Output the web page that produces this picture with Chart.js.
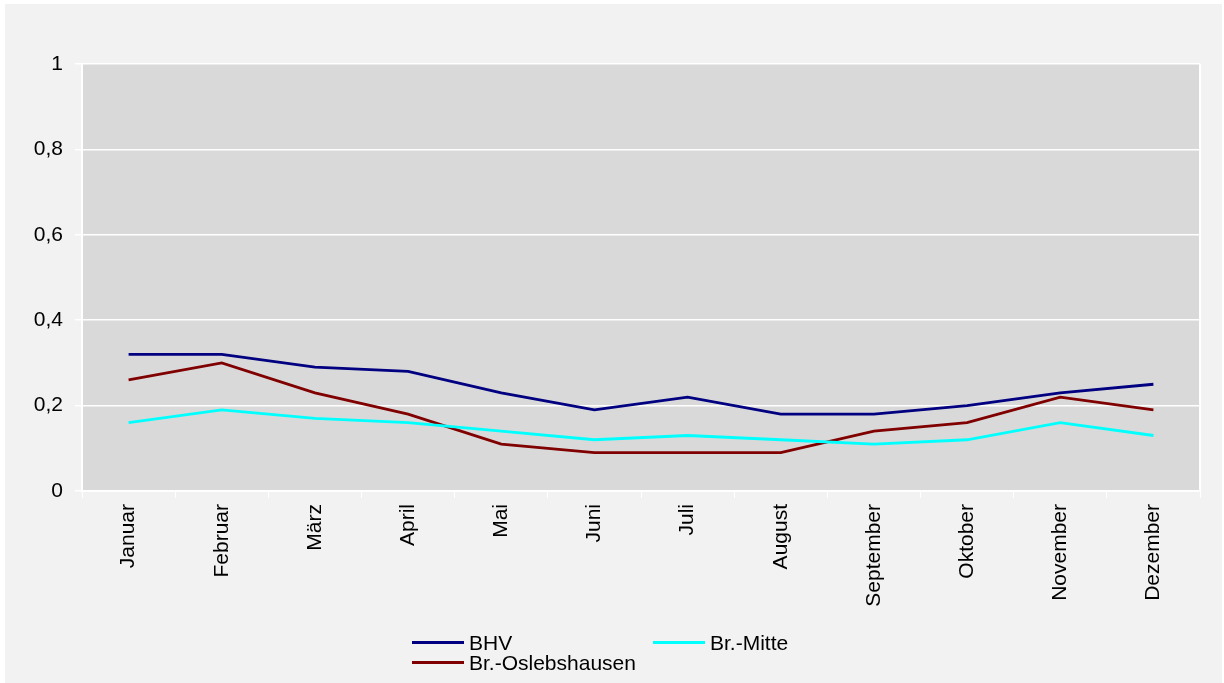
<!DOCTYPE html>
<html>
<head>
<meta charset="utf-8">
<script src="https://cdn.jsdelivr.net/npm/chart.js@4"></script>
<style>
  html, body { margin: 0; padding: 0; background: #ffffff; }
  #frame { position: absolute; left: 5px; top: 4px; width: 1217px; height: 679px; background: #f2f2f2; }
  #c { position: absolute; left: 0; top: 0; }
  .leg { position: absolute; font-family: "Liberation Sans", Arial, sans-serif; font-size: 21px; color: #000; line-height: 21px; }
  .leg .ln { position: absolute; height: 3px; width: 52px; }
  .leg .tx { position: absolute; white-space: nowrap; }
</style>
</head>
<body>
<div id="frame">
  <canvas id="c" width="1217" height="679"></canvas>
</div>
<div id="legend"></div>
<script>
const categories = ["Januar","Februar","März","April","Mai","Juni","Juli","August","September","Oktober","November","Dezember"];
const seriesNames = ["BHV","Br.-Mitte","Br.-Oslebshausen"];
const bhv = [0.32,0.32,0.29,0.28,0.23,0.19,0.22,0.18,0.18,0.20,0.23,0.25];
const mitte = [0.16,0.19,0.17,0.16,0.14,0.12,0.13,0.12,0.11,0.12,0.16,0.13];
const oslebshausen = [0.26,0.30,0.23,0.18,0.11,0.09,0.09,0.09,0.14,0.16,0.22,0.19];
const yTicks = [0,0.2,0.4,0.6,0.8,1];
const colors = ["#000080","#00ffff","#800000"];

const FONT = { family: "'Liberation Sans', Arial, sans-serif", size: 21 };

const plotBg = {
  id: 'plotBg',
  beforeDraw(chart) {
    const { ctx, chartArea: a } = chart;
    ctx.save();
    ctx.fillStyle = '#d9d9d9';
    ctx.fillRect(a.left, a.top, a.right - a.left, a.bottom - a.top);
    ctx.restore();
  },
  afterDraw(chart) {
    const { ctx, chartArea: a } = chart;
    ctx.save();
    ctx.strokeStyle = '#ffffff';
    ctx.lineWidth = 2;
    ctx.beginPath();
    ctx.moveTo(a.right, a.top);
    ctx.lineTo(a.right, a.bottom);
    ctx.stroke();
    ctx.restore();
  }
};

const datasets = [bhv, mitte, oslebshausen].map((d, i) => ({
  label: seriesNames[i],
  data: d,
  borderColor: colors[i],
  backgroundColor: colors[i],
  borderWidth: 2.8,
  pointRadius: 0,
  tension: 0,
  fill: false
}));

new Chart(document.getElementById('c'), {
  type: 'line',
  data: { labels: categories, datasets },
  options: {
    responsive: false,
    animation: false,
    events: [],
    layout: { padding: { top: 60, right: 22, left: 0, bottom: 0 } },
    plugins: { legend: { display: false }, tooltip: { enabled: false } },
    scales: {
      x: {
        type: 'category',
        offset: true,
        afterFit(s) { s.height = 192; },
        grid: { offset: true, drawOnChartArea: false, color: '#ffffff', tickLength: 7, lineWidth: 1 },
        border: { display: true, color: '#ffffff', width: 2 },
        ticks: { color: '#000', font: FONT, minRotation: 90, maxRotation: 90, padding: 6, autoSkip: false }
      },
      y: {
        min: 0, max: 1,
        afterFit(s) { s.width = 77; },
        afterBuildTicks(s) { s.ticks = yTicks.map(v => ({ value: v })); },
        grid: { color: '#ffffff', lineWidth: 1.5, tickLength: 7 },
        border: { display: true, color: '#ffffff', width: 2 },
        ticks: {
          color: '#000', font: FONT, padding: 12,
          callback: v => String(v).replace('.', ',')
        }
      }
    }
  },
  plugins: [plotBg]
});

// Legend (HTML, two rows like the reference)
const legendItems = [
  { i: 0, x: 412, y: 642 },
  { i: 1, x: 653, y: 642 },
  { i: 2, x: 412, y: 662 }
];
const leg = document.getElementById('legend');
legendItems.forEach(it => {
  const d = document.createElement('div');
  d.className = 'leg';
  d.style.left = it.x + 'px';
  d.style.top = (it.y - 11) + 'px';
  const ln = document.createElement('div');
  ln.className = 'ln';
  ln.style.background = colors[it.i];
  ln.style.left = '0px';
  ln.style.top = '10px';
  const tx = document.createElement('div');
  tx.className = 'tx';
  tx.style.left = '57px';
  tx.style.top = '1px';
  tx.textContent = seriesNames[it.i];
  d.appendChild(ln); d.appendChild(tx);
  leg.appendChild(d);
});
</script>
</body>
</html>
